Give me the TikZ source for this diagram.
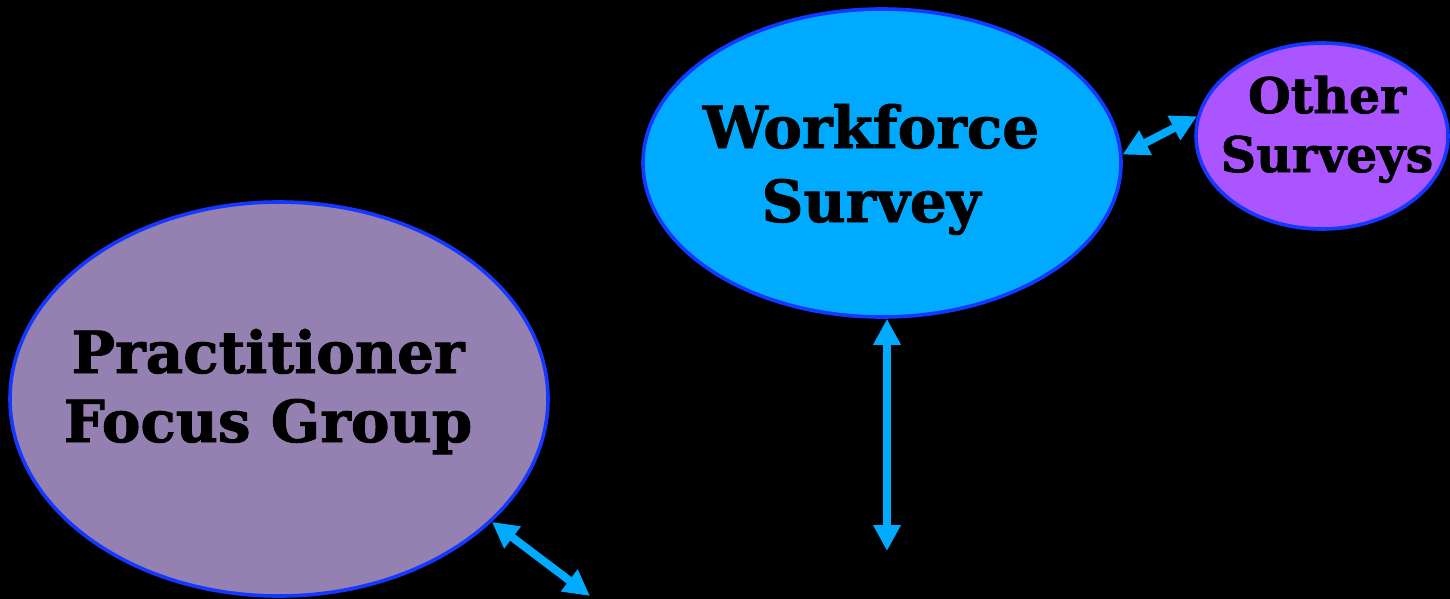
\documentclass[tikz,border=0pt]{standalone}
\usepackage{fontspec}
\setmainfont[BoldFeatures={FakeBold=1.5}]{DejaVu Serif}
\usetikzlibrary{arrows.meta,shapes.geometric}
\definecolor{skyfill}{HTML}{00AAFF}
\definecolor{rimblue}{HTML}{1438FF}
\definecolor{violetfill}{HTML}{AA55FF}
\definecolor{lavenderfill}{HTML}{9580B2}
\tikzset{
  bubble/.style={ellipse, draw=rimblue, line width=3.6pt, inner sep=0pt},
  caption/.style={align=center, inner sep=0pt, anchor=base, text=black, font=\bfseries},
  link/.style={draw=skyfill, line width=8pt,
    {Triangle[width=26pt,length=26pt]}-{Triangle[width=26pt,length=26pt]}},
}
\begin{document}
\begin{tikzpicture}[x=1pt,y=-1pt]
  \fill[black] (0,0) rectangle (1450,599);
  \useasboundingbox (0,0) rectangle (1450,599);

  % the three circles of the study design
  \node[bubble, fill=skyfill, minimum width=478pt, minimum height=308pt] (ws) at (882,163) {};
  \node[bubble, fill=violetfill, minimum width=252pt, minimum height=186pt] (os) at (1322,136) {};
  \node[bubble, fill=lavenderfill, minimum width=538pt, minimum height=394pt] (pfg) at (279,399) {};

  % labels (anchored on the baseline of their last line)
  \node[caption, font=\bfseries\fontsize{58}{74}\selectfont] (wslabel) at (871,222) {Workforce\\Survey};
  \node[caption, font=\bfseries\fontsize{49}{59}\selectfont] (oslabel) at (1327,172) {Other\\Surveys};
  \node[caption, font=\bfseries\fontsize{58}{69}\selectfont] (pfglabel) at (268,442) {Practitioner\\Focus Group};

  % loose ends of the open arrows
  \coordinate (down) at (887,551);
  \coordinate (corner) at (590,596);

  % connectors
  \draw[link] (ws.2.6) -- (os.171);
  \draw[link] (ws.south -| down) -- (down);
  \draw[link] (pfg.-30) -- (corner);
\end{tikzpicture}
\end{document}
